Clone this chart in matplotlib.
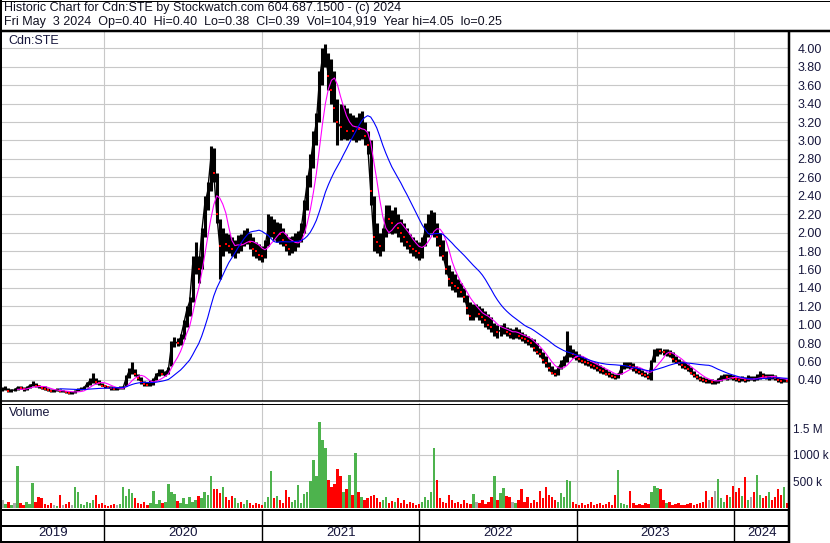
import matplotlib
matplotlib.use("Agg")
import matplotlib.pyplot as plt
from matplotlib.lines import Line2D
import numpy as np
import pandas as pd

# Weekly summary of the daily chart, ending Fri May 3 2024.
weeks = pd.date_range(end="2024-05-03", periods=261, freq="7D")

price_low = [
    0.28, 0.29, 0.27, 0.27, 0.28, 0.29, 0.30, 0.28, 0.29, 0.31,
    0.33, 0.32, 0.31, 0.30, 0.29, 0.28, 0.27, 0.27, 0.28, 0.27,
    0.27, 0.26, 0.25, 0.25, 0.26, 0.28, 0.29, 0.30, 0.32, 0.35,
    0.37, 0.36, 0.35, 0.33, 0.31, 0.31, 0.29, 0.29, 0.29, 0.30,
    0.30, 0.33, 0.42, 0.47, 0.44, 0.40, 0.36, 0.34, 0.33, 0.34,
    0.35, 0.40, 0.44, 0.45, 0.44, 0.47, 0.55, 0.76, 0.77, 0.78,
    0.84, 0.98, 1.10, 1.25, 1.55, 1.45, 1.60, 1.95, 2.25, 2.45,
    2.55, 2.10, 1.50, 1.75, 1.80, 1.78, 1.75, 1.72, 1.78, 1.80,
    1.85, 1.88, 1.82, 1.75, 1.72, 1.70, 1.68, 1.72, 1.85, 1.95,
    1.92, 1.90, 1.88, 1.85, 1.80, 1.76, 1.78, 1.80, 1.84, 1.90,
    2.00, 2.25, 2.50, 2.70, 2.95, 3.20, 3.60, 3.80, 3.55, 3.40,
    3.20, 2.95, 3.00, 3.02, 3.00, 3.02, 3.00, 2.98, 3.00, 3.02,
    2.95, 2.85, 2.30, 1.80, 1.78, 1.75, 1.80, 1.95, 2.00, 1.98,
    2.00, 1.95, 1.90, 1.85, 1.82, 1.78, 1.75, 1.72, 1.70, 1.72,
    1.85, 1.95, 2.00, 1.95, 1.85, 1.75, 1.70, 1.55, 1.42, 1.38,
    1.35, 1.30, 1.30, 1.25, 1.12, 1.05, 1.05, 1.08, 1.05, 1.02,
    0.98, 0.95, 0.92, 0.88, 0.86, 0.88, 0.90, 0.88, 0.86, 0.85,
    0.86, 0.84, 0.82, 0.80, 0.78, 0.76, 0.72, 0.68, 0.65, 0.58,
    0.54, 0.50, 0.46, 0.44, 0.45, 0.52, 0.55, 0.60, 0.65, 0.64,
    0.62, 0.60, 0.58, 0.56, 0.55, 0.53, 0.52, 0.50, 0.48, 0.47,
    0.45, 0.43, 0.42, 0.41, 0.42, 0.47, 0.52, 0.53, 0.52, 0.50,
    0.48, 0.46, 0.44, 0.43, 0.41, 0.40, 0.60, 0.66, 0.68, 0.67,
    0.66, 0.65, 0.60, 0.58, 0.56, 0.53, 0.52, 0.50, 0.46, 0.43,
    0.41, 0.39, 0.38, 0.37, 0.37, 0.36, 0.36, 0.37, 0.39, 0.41,
    0.40, 0.41, 0.40, 0.39, 0.38, 0.39, 0.38, 0.39, 0.40, 0.39,
    0.40, 0.41, 0.42, 0.41, 0.40, 0.41, 0.40, 0.38, 0.37, 0.38,
    0.38,
]
price_high = [
    0.32, 0.33, 0.31, 0.30, 0.31, 0.34, 0.34, 0.32, 0.33, 0.36,
    0.39, 0.37, 0.35, 0.34, 0.33, 0.31, 0.30, 0.30, 0.31, 0.30,
    0.29, 0.28, 0.28, 0.27, 0.29, 0.31, 0.32, 0.33, 0.38, 0.42,
    0.48, 0.42, 0.40, 0.37, 0.35, 0.34, 0.33, 0.32, 0.32, 0.33,
    0.34, 0.45, 0.53, 0.59, 0.52, 0.47, 0.43, 0.39, 0.38, 0.40,
    0.42, 0.48, 0.52, 0.52, 0.50, 0.54, 0.82, 0.87, 0.86, 0.90,
    1.05, 1.20, 1.30, 1.75, 1.90, 1.75, 2.05, 2.40, 2.55, 2.94,
    2.92, 2.65, 2.15, 2.05, 2.00, 1.98, 1.95, 1.92, 1.97, 1.98,
    2.03, 2.05, 2.00, 1.95, 1.90, 1.88, 1.85, 1.92, 2.20, 2.18,
    2.15, 2.12, 2.10, 2.05, 1.98, 1.95, 1.96, 2.00, 2.02, 2.10,
    2.35, 2.62, 2.85, 3.10, 3.30, 3.75, 4.00, 4.05, 3.95, 3.88,
    3.75, 3.45, 3.40, 3.38, 3.35, 3.30, 3.28, 3.25, 3.30, 3.32,
    3.20, 3.10, 3.00, 2.40, 2.10, 2.00, 2.05, 2.30, 2.30, 2.25,
    2.28, 2.20, 2.15, 2.10, 2.05, 1.98, 1.95, 1.92, 1.90, 1.95,
    2.10, 2.20, 2.25, 2.22, 2.10, 2.00, 1.92, 1.80, 1.65, 1.58,
    1.55, 1.50, 1.45, 1.40, 1.32, 1.25, 1.22, 1.22, 1.20, 1.18,
    1.15, 1.12, 1.08, 1.02, 1.00, 1.00, 1.02, 0.98, 0.96, 0.95,
    0.97, 0.95, 0.92, 0.90, 0.88, 0.86, 0.84, 0.80, 0.75, 0.70,
    0.66, 0.60, 0.55, 0.52, 0.55, 0.62, 0.66, 0.93, 0.78, 0.74,
    0.72, 0.68, 0.66, 0.64, 0.62, 0.61, 0.60, 0.58, 0.56, 0.54,
    0.52, 0.50, 0.48, 0.47, 0.48, 0.56, 0.60, 0.60, 0.59, 0.58,
    0.55, 0.53, 0.51, 0.49, 0.47, 0.62, 0.74, 0.75, 0.75, 0.74,
    0.74, 0.73, 0.70, 0.66, 0.63, 0.61, 0.59, 0.57, 0.54, 0.50,
    0.47, 0.44, 0.43, 0.42, 0.41, 0.41, 0.40, 0.42, 0.45, 0.46,
    0.46, 0.47, 0.45, 0.44, 0.43, 0.44, 0.43, 0.45, 0.44, 0.44,
    0.46, 0.50, 0.48, 0.47, 0.46, 0.47, 0.45, 0.43, 0.42, 0.42,
    0.40,
]
price_close = [
    0.30, 0.31, 0.28, 0.29, 0.29, 0.32, 0.31, 0.30, 0.31, 0.34,
    0.35, 0.34, 0.33, 0.31, 0.30, 0.29, 0.28, 0.28, 0.29, 0.28,
    0.28, 0.27, 0.26, 0.26, 0.27, 0.29, 0.30, 0.31, 0.36, 0.39,
    0.40, 0.38, 0.37, 0.34, 0.33, 0.32, 0.31, 0.30, 0.30, 0.31,
    0.32, 0.42, 0.50, 0.52, 0.46, 0.42, 0.38, 0.36, 0.35, 0.37,
    0.39, 0.46, 0.48, 0.47, 0.48, 0.52, 0.78, 0.82, 0.80, 0.86,
    1.00, 1.15, 1.25, 1.65, 1.70, 1.60, 2.00, 2.30, 2.45, 2.80,
    2.65, 2.20, 1.85, 1.90, 1.88, 1.85, 1.82, 1.85, 1.90, 1.88,
    1.95, 1.96, 1.90, 1.82, 1.80, 1.76, 1.75, 1.85, 2.05, 2.08,
    2.00, 2.02, 1.98, 1.92, 1.86, 1.82, 1.88, 1.90, 1.95, 2.05,
    2.30, 2.55, 2.75, 3.00, 3.20, 3.65, 3.90, 3.92, 3.70, 3.55,
    3.35, 3.20, 3.15, 3.25, 3.10, 3.15, 3.10, 3.14, 3.12, 3.15,
    3.05, 2.95, 2.45, 1.95, 1.90, 1.85, 1.95, 2.20, 2.15, 2.10,
    2.15, 2.05, 2.00, 1.95, 1.90, 1.85, 1.82, 1.80, 1.78, 1.88,
    2.02, 2.10, 2.12, 2.18, 1.95, 1.85, 1.75, 1.60, 1.50, 1.45,
    1.42, 1.40, 1.35, 1.30, 1.18, 1.10, 1.15, 1.15, 1.12, 1.08,
    1.05, 1.00, 0.98, 1.00, 0.92, 0.94, 0.96, 0.92, 0.90, 0.90,
    0.92, 0.88, 0.86, 0.84, 0.82, 0.80, 0.75, 0.70, 0.68, 0.62,
    0.58, 0.53, 0.48, 0.47, 0.52, 0.58, 0.62, 0.68, 0.70, 0.68,
    0.65, 0.63, 0.61, 0.59, 0.58, 0.56, 0.55, 0.53, 0.51, 0.50,
    0.47, 0.46, 0.44, 0.43, 0.45, 0.53, 0.56, 0.57, 0.55, 0.54,
    0.51, 0.49, 0.47, 0.45, 0.43, 0.58, 0.70, 0.72, 0.71, 0.70,
    0.71, 0.68, 0.63, 0.61, 0.58, 0.56, 0.54, 0.52, 0.48, 0.45,
    0.43, 0.41, 0.40, 0.39, 0.39, 0.38, 0.38, 0.40, 0.43, 0.44,
    0.43, 0.44, 0.42, 0.41, 0.40, 0.41, 0.40, 0.42, 0.42, 0.41,
    0.43, 0.46, 0.44, 0.43, 0.44, 0.43, 0.42, 0.40, 0.39, 0.40,
    0.39,
]
volume_m = [
    0.15, 0.08, 0.12, 0.06, 0.10, 0.79, 0.09, 0.05, 0.12, 0.07,
    0.48, 0.12, 0.20, 0.18, 0.08, 0.05, 0.10, 0.06, 0.04, 0.25,
    0.06, 0.08, 0.12, 0.05, 0.40, 0.30, 0.08, 0.06, 0.12, 0.10,
    0.15, 0.25, 0.08, 0.10, 0.05, 0.04, 0.06, 0.08, 0.05, 0.07,
    0.40, 0.22, 0.35, 0.28, 0.18, 0.10, 0.08, 0.12, 0.06, 0.10,
    0.33, 0.08, 0.15, 0.10, 0.12, 0.45, 0.30, 0.26, 0.14, 0.10,
    0.18, 0.08, 0.20, 0.12, 0.15, 0.22, 0.18, 0.30, 0.25, 0.60,
    0.35, 0.35, 0.28, 0.40, 0.20, 0.15, 0.22, 0.18, 0.10, 0.12,
    0.08, 0.15, 0.10, 0.06, 0.10, 0.08, 0.05, 0.12, 0.20, 0.69,
    0.18, 0.22, 0.15, 0.10, 0.34, 0.20, 0.12, 0.15, 0.43, 0.10,
    0.26, 0.30, 0.50, 0.90, 0.60, 1.62, 1.28, 1.14, 0.53, 0.40,
    0.45, 0.73, 0.60, 0.30, 0.35, 0.62, 0.25, 1.04, 0.30, 0.20,
    0.15, 0.18, 0.22, 0.25, 0.18, 0.12, 0.15, 0.20, 0.10, 0.14,
    0.12, 0.18, 0.10, 0.15, 0.08, 0.12, 0.10, 0.06, 0.08, 0.12,
    0.20, 0.15, 0.30, 1.14, 0.53, 0.18, 0.12, 0.10, 0.25, 0.15,
    0.10, 0.12, 0.08, 0.15, 0.10, 0.08, 0.27, 0.12, 0.10, 0.15,
    0.08, 0.12, 0.20, 0.60, 0.15, 0.28, 0.38, 0.22, 0.20, 0.12,
    0.10, 0.15, 0.35, 0.12, 0.20, 0.10, 0.15, 0.12, 0.33, 0.18,
    0.40, 0.25, 0.20, 0.15, 0.12, 0.28, 0.20, 0.53, 0.50, 0.12,
    0.08, 0.06, 0.10, 0.05, 0.08, 0.12, 0.06, 0.08, 0.10, 0.05,
    0.08, 0.12, 0.06, 0.25, 0.71, 0.10, 0.08, 0.06, 0.33, 0.10,
    0.05, 0.08, 0.06, 0.10, 0.08, 0.30, 0.42, 0.38, 0.35, 0.15,
    0.10, 0.12, 0.05, 0.08, 0.10, 0.06, 0.05, 0.08, 0.10, 0.06,
    0.08, 0.10, 0.12, 0.33, 0.15, 0.20, 0.33, 0.54, 0.18, 0.12,
    0.25, 0.20, 0.42, 0.30, 0.38, 0.22, 0.58, 0.15, 0.20, 0.30,
    0.63, 0.25, 0.18, 0.22, 0.30, 0.15, 0.20, 0.36, 0.25, 0.40,
    0.10,
]

price_ticks = [0.40, 0.60, 0.80, 1.00, 1.20, 1.40, 1.60, 1.80, 2.00, 2.20,
               2.40, 2.60, 2.80, 3.00, 3.20, 3.40, 3.60, 3.80, 4.00]
volume_ticks = [0.5, 1.0, 1.5]
volume_labels = ["500 k", "1000 k", "1.5 M"]
year_labels = ["2019", "2020", "2021", "2022", "2023", "2024"]

title_1 = "Historic Chart for Cdn:STE by Stockwatch.com 604.687.1500 - (c) 2024"
title_2 = ("Fri May  3 2024  Op=0.40  Hi=0.40  Lo=0.38  Cl=0.39  "
           "Vol=104,919  Year hi=4.05  lo=0.25")

W, H = 830, 543
NAVY = "#16163c"
GRID = "#c8c8c8"
plt.rcParams["font.family"] = ["Liberation Sans", "DejaVu Sans"]

close = pd.Series(price_close, index=weeks)
ma_fast = close.rolling(6).mean()
ma_slow = close.rolling(20).mean()
change = close.diff().fillna(0).values
vol_colors = np.where(change > 0, "#4db34d", np.where(change < 0, "#ff0000", "#a8a8a8"))

x_left = pd.Timestamp("2019-05-09")
x_right = pd.Timestamp("2024-05-07")
year_edges = [pd.Timestamp(f"{y}-01-01") for y in range(2020, 2025)]


def px_axes(x0, y0, x1, y1):
    return fig.add_axes([x0 / W, 1 - y1 / H, (x1 - x0) / W, (y1 - y0) / H])


def fig_line(xs, ys, lw):
    fig.add_artist(Line2D([x / W for x in xs], [1 - y / H for y in ys],
                          transform=fig.transFigure, color="black",
                          lw=lw * 0.72, solid_capstyle="butt"))


fig = plt.figure(figsize=(W / 100, H / 100), dpi=100)
fig.patch.set_facecolor("white")

# price panel
ax = px_axes(2, 31, 789, 401)
ax.vlines(weeks, price_low, price_high, color="black", lw=2.2)
ax.plot(weeks, price_close, color="black", lw=1.0)
down = change < 0
ax.plot(weeks[down], close.values[down], ls="none", marker="s", ms=1.5,
        mew=0, color="red")
ax.plot(weeks, ma_fast, color="#ff00ff", lw=0.8)
ax.plot(weeks, ma_slow, color="#0000ff", lw=0.8)
ax.set_xlim(x_left, x_right)
ax.set_ylim(0.172, 4.188)
ax.set_yticks(price_ticks)
ax.set_yticklabels([f"{t:.2f}" for t in price_ticks])
ax.yaxis.tick_right()
ax.tick_params(axis="y", length=0, pad=6, labelsize=9, labelcolor=NAVY)
ax.set_xticks(year_edges)
ax.tick_params(axis="x", length=0, labelbottom=False)
ax.grid(True, color=GRID, lw=0.8)
ax.set_axisbelow(True)
for s in ax.spines.values():
    s.set_visible(False)
ax.text(6 / 787, 1 - 10 / 370, "Cdn:STE", transform=ax.transAxes,
        fontsize=9, color=NAVY, va="center", ha="left")

# volume panel
axv = px_axes(2, 403, 789, 508)
axv.bar(weeks, volume_m, width=5.5, color=vol_colors, linewidth=0)
axv.set_xlim(x_left, x_right)
axv.set_ylim(0, 1.98)
axv.set_yticks(volume_ticks)
axv.set_yticklabels(volume_labels)
axv.yaxis.tick_right()
axv.tick_params(axis="y", length=0, pad=3, labelsize=8.5, labelcolor=NAVY)
axv.set_xticks(year_edges)
axv.tick_params(axis="x", length=0, labelbottom=False)
axv.grid(True, color=GRID, lw=0.8)
axv.set_axisbelow(True)
for s in axv.spines.values():
    s.set_visible(False)
axv.text(7 / 787, 1 - 10 / 105, "Volume", transform=axv.transAxes,
         fontsize=9, color=NAVY, va="center", ha="left")

# year strip
axy = px_axes(2, 510, 789, 541)
axy.set_xlim(x_left, x_right)
axy.set_ylim(0, 1)
axy.axis("off")
for e in year_edges:
    axy.axvline(e, color="black", lw=1.0)
bounds = [x_left] + year_edges + [x_right]
for lab, a, b in zip(year_labels, bounds[:-1], bounds[1:]):
    axy.text(a + (b - a) / 2, 0.27, lab, ha="center", va="center",
             fontsize=9.5, color=NAVY)

# frame lines
fig_line([0, W], [0.5, 0.5], 1)
fig_line([1, 1], [0, H], 2)
fig_line([0, W], [31, 31], 2.5)
fig_line([789, 789], [31, H], 2.5)
fig_line([0, 789], [401, 401], 1.5)
fig_line([0, 789], [403.5, 403.5], 1)
fig_line([0, 789], [509.5, 509.5], 2)
fig_line([0, 789], [526, 526], 2)
fig_line([0, 789], [541.5, 541.5], 2)

fig.text(4 / W, 1 - 8 / H, title_1, fontsize=9, color="#101020", va="center")
fig.text(4 / W, 1 - 22 / H, title_2, fontsize=9, color="#101020", va="center")

fig.savefig("out.png", dpi=100)
